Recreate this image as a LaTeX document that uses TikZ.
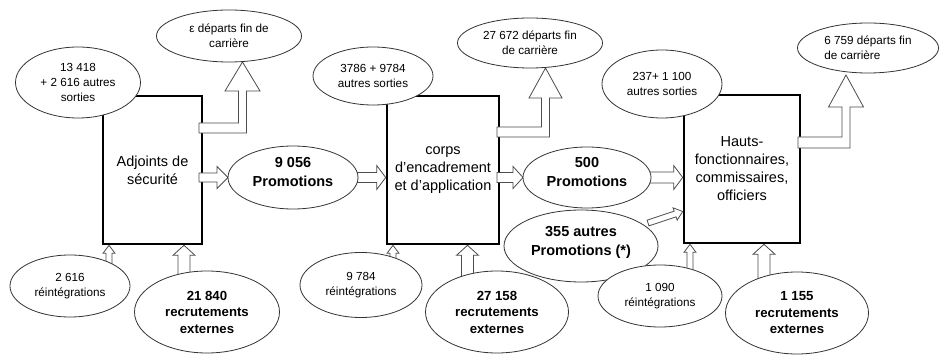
\documentclass[tikz,border=0pt]{standalone}
\usepackage{fontspec}
\setmainfont{Liberation Sans}
\usetikzlibrary{shapes.geometric,calc}
\pgfdeclarelayer{fond}
\pgfdeclarelayer{fleches}
\pgfsetlayers{fond,fleches,main}

\tikzset{
  corps/.style={draw, line width=2.6pt, fill=white, outer sep=0pt, inner sep=0pt,
    align=center, font=\fontsize{14.5}{18}\selectfont},
  bulle/.style={ellipse, draw=black!80, line width=0.8pt, fill=white, inner sep=0pt,
    outer sep=0pt, align=center},
  taille/.style 2 args={minimum width=#1pt, minimum height=#2pt},
  petit/.style={font=\fontsize{11.7}{15}\selectfont},
  gras/.style={font=\fontsize{13.2}{16.5}\selectfont\bfseries},
  grasgrand/.style={font=\fontsize{14.5}{19}\selectfont\bfseries, text depth=11pt},
  fleche/.style={draw=black!70, line width=0.8pt, fill=white, line join=miter},
}

% straight block arrow: #1 start, #2 tip, #3 shaft half-width, #4 head half-width, #5 head length
\newcommand\flechepleine[5]{%
  \coordinate (fb) at ($(#2)!#5!(#1)$);
  \filldraw[fleche] ($(#1)!#3!90:(#2)$) -- ($(fb)!#3!-90:(#1)$) -- ($(fb)!#4!-90:(#1)$)
    -- (#2) -- ($(fb)!#4!90:(#1)$) -- ($(fb)!#3!90:(#1)$) -- ($(#1)!#3!-90:(#2)$) -- cycle;}

% bent block arrow, horizontal band then upward shaft:
% #1 start (middle of band), #2 tip, #3 band half-thickness, #4 shaft half-width,
% #5 head half-width, #6 head length
\newcommand\flechecoudee[6]{%
  \filldraw[fleche] let \p1=(#1), \p2=(#2) in
    (\x1,{\y1+#3}) -- ({\x2-#4},{\y1+#3}) -- ({\x2-#4},{\y2-#6}) -- ({\x2-#5},{\y2-#6})
    -- (\x2,\y2) -- ({\x2+#5},{\y2-#6}) -- ({\x2+#4},{\y2-#6}) -- ({\x2+#4},{\y1-#3})
    -- (\x1,{\y1-#3}) -- cycle;}

\begin{document}
\begin{tikzpicture}[x=1pt,y=-1pt]
\useasboundingbox (0,0) rectangle (939,355);

% the three bodies
\begin{pgfonlayer}{fond}
  \fill[white] (0,0) rectangle (939,355);
  \node[corps, taille={99}{148}] (b1) at (152.5,170) {Adjoints de\\sécurité};
  \node[corps, taille={112}{148}] (b2) at (443,170) {corps\\d'encadrement\\et d'application};
  \node[corps, taille={116}{148}] (b3) at (742,169) {Hauts-\\fonctionnaires,\\commissaires,\\officiers};
\end{pgfonlayer}

% first body
\node[bulle, petit, taille={125}{71}] (e1) at (78,82.5) {13 418\\+ 2 616 autres\\sorties};
\node[bulle, petit, taille={145}{52}] (e2) at (229,36) {ε départs fin de\\carrière};
\node[bulle, grasgrand, taille={130}{63}] (e3) at (293,177.5) {9 056\\Promotions};
\node[bulle, petit, taille={120}{62}] (e4) at (70,286) {2 616\\réintégrations};
\node[bulle, gras, taille={145}{82}] (e5) at (207,312) {21 840\\recrutements\\externes};

% second body
\node[bulle, petit, taille={120}{58}] (e6) at (373,76) {3786 + 9784\\autres sorties};
\node[bulle, petit, taille={145}{50}] (e7) at (530,43) {27 672 départs fin\\de carrière};
\node[bulle, petit, taille={122}{65}] (e8) at (361,285) {9 784\\réintégrations};
\node[bulle, gras, taille={143}{82}] (e9) at (497,312) {27 158\\recrutements\\externes};
\node[bulle, grasgrand, taille={128}{61}] (e10) at (587,177.5) {500\\Promotions};
\node[bulle, grasgrand, taille={154}{72}] (e11) at (581,246) {355 autres\\Promotions (*)};

% third body
\node[bulle, petit, taille={120}{68}] (e12) at (662,84) {237+ 1 100\\autres sorties};
\node[bulle, petit, taille={141}{50}, align=left] (e13) at (868,48) {6 759 départs fin\\de carrière};
\node[bulle, petit, taille={124}{62}] (e14) at (660,296) {1 090\\réintégrations};
\node[bulle, gras, taille={143}{82}] (e15) at (797,313) {1 155\\recrutements\\externes};

\begin{pgfonlayer}{fleches}
  % promotions between bodies
  \coordinate (a1d) at ($(b1.east)+(-3,7.5)$);
  \flechepleine{a1d}{e3.west}{4.5pt}{11pt}{11pt}
  \coordinate (a2d) at ($(e3.east)+(-8,0)$);
  \coordinate (a2f) at ($(b2.west)+(-1.3,7.5)$);
  \flechepleine{a2d}{a2f}{5pt}{12pt}{9pt}
  \coordinate (a3d) at ($(b2.east)+(-2,7.5)$);
  \flechepleine{a3d}{e10.west}{5pt}{11pt}{10pt}
  \coordinate (a4d) at ($(e10.east)+(-8,0)$);
  \coordinate (a4f) at ($(b3.west)+(-1.3,8.5)$);
  \flechepleine{a4d}{a4f}{5.5pt}{12pt}{9pt}
  \coordinate (a5d) at ($(e11.center)+(67,-23)$);
  \coordinate (a5f) at ($(b3.west)+(-1.3,42.5)$);
  \flechepleine{a5d}{a5f}{3pt}{6.5pt}{8pt}

  % entries from below
  \coordinate (c1d) at ($(e4.center)+(39,-10)$);
  \coordinate (c1f) at ($(b1.south)+(-43.5,1.3)$);
  \flechepleine{c1d}{c1f}{3pt}{6pt}{8pt}
  \coordinate (c2d) at ($(e5.center)+(-23,-15)$);
  \coordinate (c2f) at ($(b1.south)+(31.5,1.3)$);
  \flechepleine{c2d}{c2f}{6pt}{11pt}{10pt}
  \coordinate (c3d) at ($(e8.center)+(32,-10)$);
  \coordinate (c3f) at ($(b2.south)+(-50,1.3)$);
  \flechepleine{c3d}{c3f}{3pt}{6pt}{8pt}
  \coordinate (c4d) at ($(e9.center)+(-29.5,-15)$);
  \coordinate (c4f) at ($(b2.south)+(24.5,1.3)$);
  \flechepleine{c4d}{c4f}{6pt}{11pt}{10pt}
  \coordinate (c5d) at ($(e14.center)+(30,-10)$);
  \coordinate (c5f) at ($(b3.south)+(-52,1.3)$);
  \flechepleine{c5d}{c5f}{3pt}{6pt}{8pt}
  \coordinate (c6d) at ($(e15.center)+(-33,-15)$);
  \coordinate (c6f) at ($(b3.south)+(22,1.3)$);
  \flechepleine{c6d}{c6f}{6pt}{11pt}{10pt}

  % end-of-career departures
  \coordinate (d1d) at ($(b1.east)+(-3,-42)$);
  \coordinate (d1f) at ($(e2.south)+(13.5,0)$);
  \flechecoudee{d1d}{d1f}{5pt}{4pt}{17.5pt}{29pt}
  \coordinate (d2d) at ($(b2.east)+(-2,-38)$);
  \coordinate (d2f) at ($(e7.south)+(15.5,0)$);
  \flechecoudee{d2d}{d2f}{5pt}{4pt}{16.5pt}{30pt}
  \coordinate (d3d) at ($(b3.east)+(-2,-26.5)$);
  \coordinate (d3f) at ($(e13.south)+(-22,2)$);
  \flechecoudee{d3d}{d3f}{5.5pt}{4pt}{17.5pt}{32pt}
\end{pgfonlayer}
\end{tikzpicture}
\end{document}
